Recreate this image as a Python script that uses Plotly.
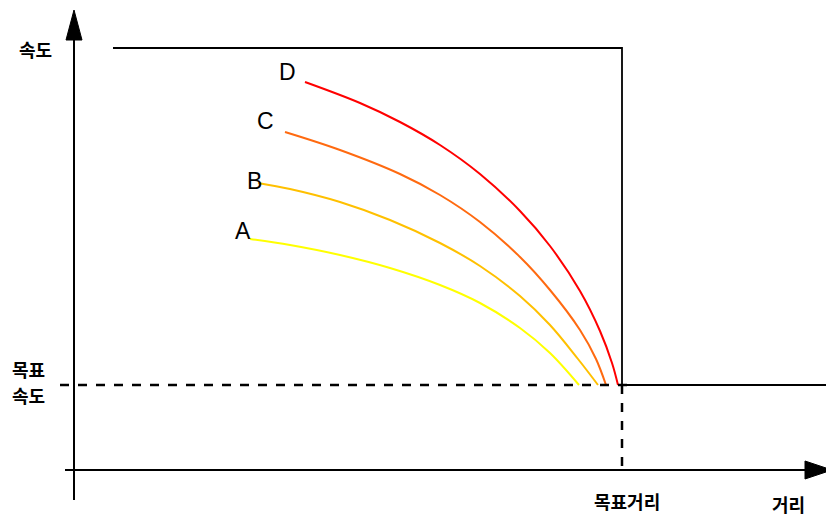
import plotly.graph_objects as go

# distance / speed (origin at the axis crossing)
dist_a = [176, 216, 266, 316, 366, 406, 446, 476, 505]
speed_a = [231, 225, 215, 202, 185, 167, 142, 117, 85]
dist_b = [184, 216, 266, 316, 366, 406, 446, 476, 504, 524]
speed_b = [287, 281, 268, 250, 227, 204, 174, 145, 111, 85]
dist_c = [211, 266, 326, 366, 406, 446, 476, 506, 522, 532]
speed_c = [338, 320, 296, 275, 248, 213, 180, 140, 111, 85]
dist_d = [231, 286, 326, 366, 406, 446, 476, 506, 526, 538, 544]
speed_d = [388, 367, 348, 325, 296, 259, 224, 179, 139, 107, 85]

names = ["A", "B", "C", "D"]
colors = ["#ffff00", "#ffc000", "#ff6a10", "#ff0000"]
curves = [(dist_a, speed_a), (dist_b, speed_b), (dist_c, speed_c), (dist_d, speed_d)]
label_pos = [(169, 239), (180, 289), (191, 349), (213, 398)]

target_dist = 548
target_speed = 85
max_speed = 422

fig = go.Figure()
for (x, y), c in zip(curves, colors):
    fig.add_trace(go.Scatter(x=x, y=y, mode="lines", line=dict(color=c, width=2, shape="spline"),
                             hoverinfo="skip", showlegend=False))

# letters next to curve starts
for (lx, ly), n in zip(label_pos, names):
    fig.add_annotation(x=lx, y=ly, text=n, showarrow=False,
                       font=dict(family="Liberation Sans, Arial", size=23, color="black"))

shapes = []
# axes
shapes.append(dict(type="line", x0=0, x1=0, y0=-30, y1=440, line=dict(color="black", width=2)))
shapes.append(dict(type="line", x0=-9, x1=740, y0=0, y1=0, line=dict(color="black", width=2)))
shapes.append(dict(type="path", path="M -8 430 L 8 430 L 0 460 Z", fillcolor="black", line=dict(color="black", width=1)))
shapes.append(dict(type="path", path="M 731 -9 L 731 9 L 758 0 Z", fillcolor="black", line=dict(color="black", width=1)))
# control limit line
shapes.append(dict(type="path", path=f"M 39 {max_speed} L {target_dist} {max_speed} L {target_dist} {target_speed} L 768 {target_speed}",
                   line=dict(color="black", width=1.8)))
# dashed target lines
shapes.append(dict(type="line", x0=-14, x1=target_dist + 10, y0=target_speed, y1=target_speed,
                   line=dict(color="black", width=2.5, dash="dash")))
shapes.append(dict(type="line", x0=target_dist, x1=target_dist, y0=target_speed, y1=-5,
                   line=dict(color="black", width=2.5, dash="dash")))
fig.update_layout(shapes=shapes)

kfont = dict(family="Noto Sans CJK KR", size=18, color="black")
fig.add_annotation(x=-39, y=421, text="<b>속도</b>", showarrow=False, font=kfont)
fig.add_annotation(x=-46, y=101, text="<b>목표</b>", showarrow=False, font=kfont)
fig.add_annotation(x=-46, y=75, text="<b>속도</b>", showarrow=False, font=kfont)
fig.add_annotation(x=553, y=-31, text="<b>목표거리</b>", showarrow=False, font=kfont)
fig.add_annotation(x=714, y=-34, text="<b>거리</b>", showarrow=False, font=kfont)

fig.update_layout(width=834, height=518, margin=dict(l=0, r=0, t=0, b=0),
                  plot_bgcolor="white", paper_bgcolor="white",
                  xaxis=dict(range=[-66, 768], visible=False, fixedrange=True),
                  yaxis=dict(range=[-56, 462], visible=False, fixedrange=True))
fig.write_html("out.html")
